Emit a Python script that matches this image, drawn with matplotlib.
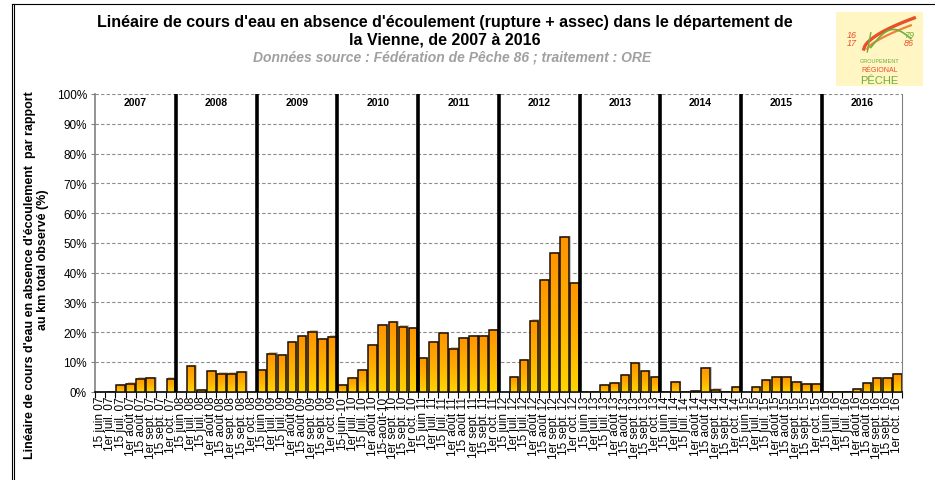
# Linéaire de cours d'eau en absence d'écoulement - Vienne 2007-2016
import numpy as np
import matplotlib.pyplot as plt
from matplotlib.colors import LinearSegmentedColormap
from matplotlib.lines import Line2D
from matplotlib.patches import Rectangle

plt.rcParams['font.family'] = ['Liberation Sans', 'DejaVu Sans']

nan = np.nan
years = ['2007', '2008', '2009', '2010', '2011', '2012', '2013', '2014', '2015', '2016']
dates = ['15 juin', '1er juil.', '15 juil.', '1er août', '15 août', '1er sept.', '15 sept.', '1er oct.']

# % of observed km without flow, one value per observation date
v2007 = [nan, 0, 2.2, 2.7, 4.4, 4.7, nan, 4.4]
v2008 = [nan, 8.5, 0.6, 6.8, 6.1, 6.1, 6.5, nan]
v2009 = [7.2, 12.8, 12.4, 16.6, 18.8, 20.2, 17.7, 18.5]
v2010 = [2.2, 4.7, 7.2, 15.7, 22.3, 23.3, 21.9, 21.3]
v2011 = [11.3, 16.6, 19.8, 14.5, 18.1, 18.8, 18.8, 20.6]
v2012 = [nan, 5.0, 10.6, 23.9, 37.5, 46.5, 51.8, 36.4]
v2013 = [0, 0, 2.2, 3.0, 5.5, 9.7, 6.8, 5.0]
v2014 = [0, 3.2, 0, 0.3, 7.8, 0.7, 0, 1.5]
v2015 = [nan, 1.5, 4.0, 5.0, 5.0, 3.2, 2.5, 2.5]
v2016 = [0, 0, 0, 0.8, 3.0, 4.7, 4.7, 5.8]

values = np.array(v2007 + v2008 + v2009 + v2010 + v2011 + v2012 + v2013 + v2014 + v2015 + v2016)
labels = [d + ' ' + y[2:] for y in years for d in dates]
labels[24] = '15-juin-10'
labels[28] = '15-août-10'

W, H = 935, 481
fig = plt.figure(figsize=(W / 100, H / 100), dpi=100)
ax = fig.add_axes([95.3 / W, 1 - 392.7 / H, 807 / W, 297.7 / H])

x = np.arange(len(values))
n = len(dates)
w = 0.86
cmap = LinearSegmentedColormap.from_list('orange', ['#FFD400', '#FFB000', '#FF9400'])
grad = np.linspace(0, 1, 64).reshape(-1, 1)

# shadow, gradient fill, outline
pos = np.where(values > 0, values, np.nan)
ax.bar(x + 0.18, pos + 0.4, width=w, color='#C8C8C8', linewidth=0, zorder=2)
for xi, v in zip(x, values):
    if v > 0:
        ax.imshow(grad, cmap=cmap, origin='lower', aspect='auto',
                  extent=(xi - w / 2, xi + w / 2, 0, v), zorder=3)
ax.bar(x, values, width=w, facecolor='none', edgecolor='#1A1000', linewidth=1.1, zorder=4)

# year separators and year names
ax.vlines(np.arange(1, len(years)) * n - 0.5, 0, 100, colors='black', linewidth=2.6, zorder=5)
for i, yr in enumerate(years):
    ax.text(i * n + (n - 1) / 2, 97.3, yr, ha='center', va='center',
            fontsize=7.5, fontweight='bold')

ax.set_xlim(-0.5, len(values) - 0.5)
ax.set_ylim(0, 100)
ax.set_yticks(np.arange(0, 101, 10))
ax.set_yticklabels([f'{t}%' for t in range(0, 101, 10)])
ax.yaxis.grid(True, linestyle=(0, (3, 2)), color='#8C8C8C', linewidth=0.8)
ax.set_axisbelow(True)

ax.set_xticks(x)
ax.set_xticklabels(labels, rotation=90, ha='center', va='top')
ax.set_xticks(np.arange(-0.5, len(values), 1), minor=True)
ax.tick_params(axis='x', which='major', length=0, labelsize=8.5, pad=3)
ax.tick_params(axis='x', which='minor', length=4, width=0.8, color='black')
ax.tick_params(axis='y', length=3, labelsize=8.5, color='#808080', pad=3)

ax.spines['top'].set_visible(False)
ax.spines['left'].set_color('#808080')
ax.spines['left'].set_linewidth(1.2)
ax.spines['right'].set_color('#808080')
ax.spines['bottom'].set_color('black')
ax.spines['bottom'].set_linewidth(1.2)

# titles
fig.text(445 / W, 1 - 22 / H,
         "Linéaire de cours d'eau en absence d'écoulement (rupture + assec) dans le département de",
         ha='center', va='center', fontsize=11.5, fontweight='bold')
fig.text(445 / W, 1 - 40 / H, "la Vienne, de 2007 à 2016",
         ha='center', va='center', fontsize=11.5, fontweight='bold')
fig.text(452 / W, 1 - 58 / H, "Données source : Fédération de Pêche 86 ; traitement : ORE",
         ha='center', va='center', fontsize=10, fontweight='bold', style='italic', color='#A0A0A0')

# y label (two lines)
fig.text(30 / W, 1 - 275 / H, "Linéaire de cours d'eau en absence d'écoulement  par rapport",
         rotation=90, ha='center', va='center', fontsize=9, fontweight='bold')
fig.text(43 / W, 1 - 260 / H, "au km total observé (%)",
         rotation=90, ha='center', va='center', fontsize=9, fontweight='bold')

# frame of the chart area
fig.add_artist(Line2D([11.5 / W, 11.5 / W], [0, 1 - 5 / H], color='black', lw=0.8))
fig.add_artist(Line2D([14 / W, 14 / W], [0, 1 - 5 / H], color='black', lw=0.8))
fig.add_artist(Line2D([11.5 / W, 1], [1 - 5 / H, 1 - 5 / H], color='black', lw=0.8))

# logo
lg = fig.add_axes([836 / W, 1 - 87 / H, 87 / W, 74 / H])
lg.set_xlim(0, 100)
lg.set_ylim(0, 100)
lg.axis('off')
lg.add_patch(Rectangle((0, 0), 100, 100, color='#FFF6C4', zorder=0))
t = np.linspace(0, 1, 50)
lg.plot(32 + 58 * t, 50 + 42 * t ** 0.6, color='#E8502A', lw=2.4)
lg.plot(36 + 50 * t, 50 + 32 * t ** 0.7, color='#F0803A', lw=1.6)
lg.plot(40 + 46 * t, 52 + 18 * np.sin(np.pi * t) + 12 * t, color='#6FAE3A', lw=1.2)
lg.plot([36, 40], [46, 72], color='#6FAE3A', lw=1.0)
lg.text(18, 70, '16', color='#E8502A', fontsize=6.5, style='italic', ha='center', va='center')
lg.text(18, 59, '17', color='#E8502A', fontsize=6.5, style='italic', ha='center', va='center')
lg.text(84, 70, '79', color='#6FAE3A', fontsize=6.5, style='italic', ha='center', va='center')
lg.text(84, 59, '86', color='#E8502A', fontsize=6.5, style='italic', ha='center', va='center')
lg.text(50, 34, 'GROUPEMENT', color='#6FAE3A', fontsize=4, ha='center', va='center')
lg.text(50, 22, 'RÉGIONAL', color='#E8502A', fontsize=5, ha='center', va='center')
lg.text(50, 8, 'PÊCHE', color='#6FAE3A', fontsize=8, ha='center', va='center')

fig.savefig('out.png', dpi=100)
